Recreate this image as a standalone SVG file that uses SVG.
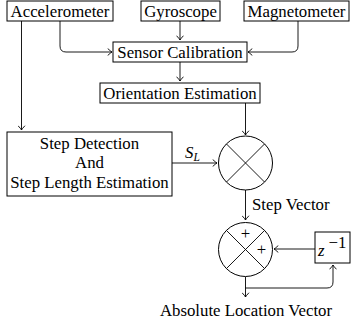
<svg xmlns="http://www.w3.org/2000/svg" width="351" height="328" viewBox="0 0 351 328">
<style>
text{font-family:"Liberation Serif","Times New Roman",serif;font-size:16.8px;fill:#000}
.m{text-anchor:middle}
.it{font-style:italic}
.box{fill:#fff;stroke:#000;stroke-width:1}
.c{fill:none;stroke:#000;stroke-width:1}
.ln{fill:none;stroke:#000;stroke-width:0.9}
</style>
<defs>
<marker id="ar" viewBox="-5 -4 6 8" refX="0" refY="0" markerWidth="6" markerHeight="8" orient="auto" markerUnits="userSpaceOnUse">
<path d="M-4,-3.2 Q-1.2,-0.6 0,0 Q-1.2,0.6 -4,3.2" fill="none" stroke="#000" stroke-width="0.9" stroke-linecap="round"/>
</marker>
</defs>
<g id="connectors">
<path class="ln" d="M60,21 V46 Q60,52 66,52 H112" marker-end="url(#ar)"/>
<path class="ln" d="M180,21 V40" marker-end="url(#ar)"/>
<path class="ln" d="M298,21 V46 Q298,52 292,52 H248" marker-end="url(#ar)"/>
<path class="ln" d="M180,62 V81" marker-end="url(#ar)"/>
<path class="ln" d="M21.5,21 V130" marker-end="url(#ar)"/>
<path class="ln" d="M245.5,103 V135" marker-end="url(#ar)"/>
<path class="ln" d="M172,163 H217" marker-end="url(#ar)"/>
<path class="ln" d="M245.5,190 V220" marker-end="url(#ar)"/>
<path class="ln" d="M315,249 H274" marker-end="url(#ar)"/>
<path class="ln" d="M245.5,277 V297" marker-end="url(#ar)"/>
<path class="ln" d="M245.5,288 H327 Q333,288 333,282 V265" marker-end="url(#ar)"/>
<text x="185" y="158" class="it">S<tspan font-size="11.5" dy="3">L</tspan></text>
<text x="252" y="210">Step Vector</text>
<text x="246" y="315.5" class="m">Absolute Location Vector</text>
</g>
<g id="accelerometer">
<rect class="box" x="7" y="1" width="106" height="20"/>
<text x="60" y="16.5" class="m">Accelerometer</text>
</g>
<g id="gyroscope">
<rect class="box" x="141" y="1" width="79" height="20"/>
<text x="180.5" y="16.5" class="m">Gyroscope</text>
</g>
<g id="magnetometer">
<rect class="box" x="244" y="1" width="105" height="20"/>
<text x="296.5" y="16.5" class="m">Magnetometer</text>
</g>
<g id="sensor-calibration">
<rect class="box" x="113" y="42" width="134" height="20"/>
<text x="180" y="57.5" class="m">Sensor Calibration</text>
</g>
<g id="orientation-estimation">
<rect class="box" x="100" y="83" width="160" height="20"/>
<text x="180" y="98.5" class="m">Orientation Estimation</text>
</g>
<g id="step-detection">
<rect class="box" x="7" y="132" width="165" height="64"/>
<text x="89.5" y="148.5" class="m">Step Detection</text>
<text x="89.5" y="168" class="m">And</text>
<text x="89.5" y="187.5" class="m">Step Length Estimation</text>
</g>
<g id="multiplier">
<circle class="c" cx="245.5" cy="163" r="27"/>
<path class="ln" d="M226.4,143.9 L264.6,182.1 M264.6,143.9 L226.4,182.1"/>
</g>
<g id="adder">
<circle class="c" cx="245.5" cy="249.5" r="27"/>
<path class="ln" d="M226.4,230.4 L264.6,268.6 M264.6,230.4 L226.4,268.6"/>
<text x="245.5" y="239" class="m">+</text>
<text x="261.5" y="255" class="m">+</text>
</g>
<g id="delay">
<rect class="box" x="315" y="232" width="35" height="31"/>
<text x="318" y="255.5" class="it">z</text>
<text x="328.5" y="248" font-size="12.5">−1</text>
</g>
</svg>
